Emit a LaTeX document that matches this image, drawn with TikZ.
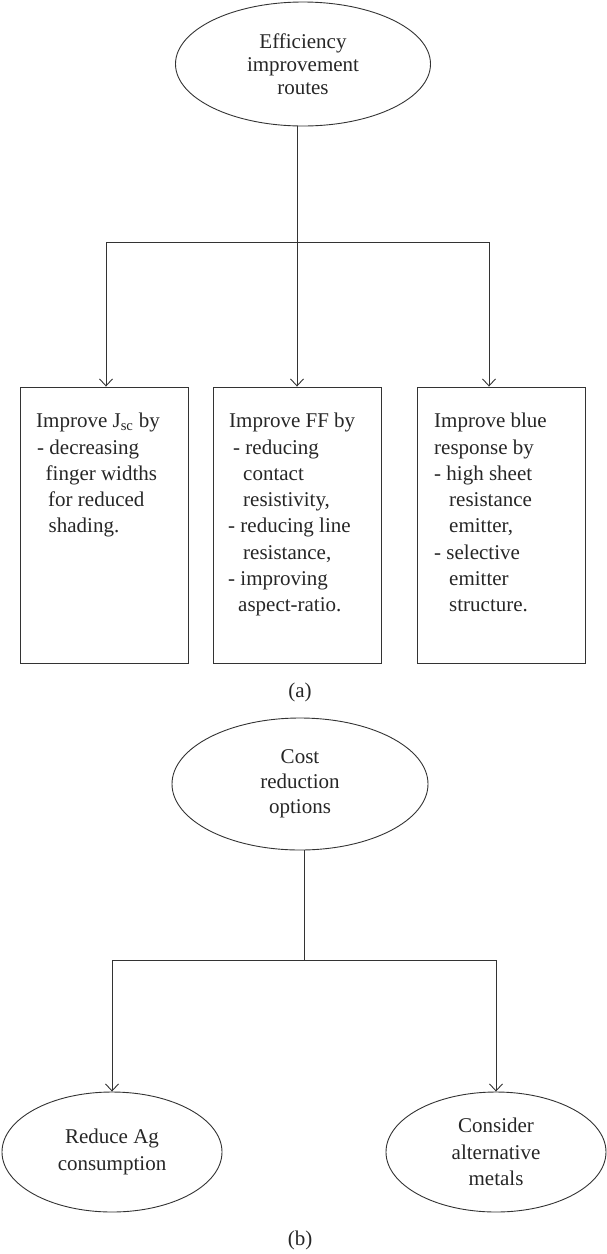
\documentclass[tikz,border=0pt]{standalone}
\usepackage{fontspec}
\setmainfont{Liberation Serif}
\usetikzlibrary{shapes.geometric,arrows.meta,calc}
\begin{document}
\begin{tikzpicture}[x=1pt,y=-1pt,
  every node/.style={text=black!85, font=\fontsize{21}{25}\selectfont},
  ln/.style={draw=black!80, line width=0.9pt},
  arr/.style={ln, -{Straight Barb[length=7pt,width=13pt]}},
  oval/.style={ellipse, draw=black!80, line width=0.9pt, inner sep=0pt, align=center},
  boxshape/.style={rectangle, draw=black!80, line width=0.9pt, minimum width=168pt, minimum height=276pt, inner sep=0pt},
  boxtext/.style={align=left, inner sep=0pt, anchor=north west, font=\fontsize{21}{26.3}\selectfont}]
\useasboundingbox (0,0) rectangle (607,1254);

% ---------- (a) ----------
\node[oval, minimum width=255pt, minimum height=124pt, font=\fontsize{21}{23}\selectfont] (eff) at (303,64) {Efficiency\\improvement\\routes};

\node[boxshape] (b1) at (104.85,525) {};
\node[boxshape] (b2) at (297,525) {};
\node[boxshape] (b3) at (501,525) {};

\node[boxtext] (t1) at (36,413) {Improve J\textsubscript{sc} by\\
\hspace*{1pt}- decreasing\\
\hspace*{9.5pt}finger widths\\
\hspace*{12pt}for reduced\\
\hspace*{12.5pt}shading.};

\node[boxtext] (t2) at (228,413) {\hspace*{1pt}Improve FF by\\
\hspace*{5pt}- reducing\\
\hspace*{15pt}contact\\
\hspace*{15pt}resistivity,\\
- reducing line\\
\hspace*{15pt}resistance,\\
- improving\\
\hspace*{10pt}aspect-ratio.};

\node[boxtext] (t3) at (434,413) {Improve blue\\
response by\\
- high sheet\\
\hspace*{15pt}resistance\\
\hspace*{15pt}emitter,\\
- selective\\
\hspace*{15pt}emitter\\
\hspace*{15pt}structure.};

\coordinate (j1) at (297,242);
\coordinate (a1) at (106,242);
\coordinate (a3) at (489,242);
\draw[ln] (eff.south -| j1) -- (j1);
\draw[ln] (a1) -- (a3);
\draw[arr] (a1) -- (a1 |- b1.north);
\draw[arr] (j1) -- (b2.north);
\draw[arr] (a3) -- (a3 |- b3.north);

\node (capa) at (300,692) {(a)};

% ---------- (b) ----------
\node[oval, minimum width=256pt, minimum height=132pt] (cost) at (300,784) {Cost\\reduction\\options};

\node[oval, minimum width=220pt, minimum height=120pt, font=\fontsize{21}{26.5}\selectfont] (red) at (112,1152) {Reduce Ag\\consumption};
\node[oval, minimum width=220pt, minimum height=120pt, font=\fontsize{21}{26.5}\selectfont] (alt) at (496,1152) {Consider\\alternative\\metals};

\coordinate (j2) at (304,960);
\coordinate (a4) at (112,960);
\coordinate (a5) at (496,960);
\draw[ln] (cost.south -| j2) -- (j2);
\draw[ln] (a4) -- (a5);
\draw[arr] (a4) -- (red.north);
\draw[arr] (a5) -- (alt.north);

\node (capb) at (300,1240) {(b)};
\end{tikzpicture}
\end{document}
